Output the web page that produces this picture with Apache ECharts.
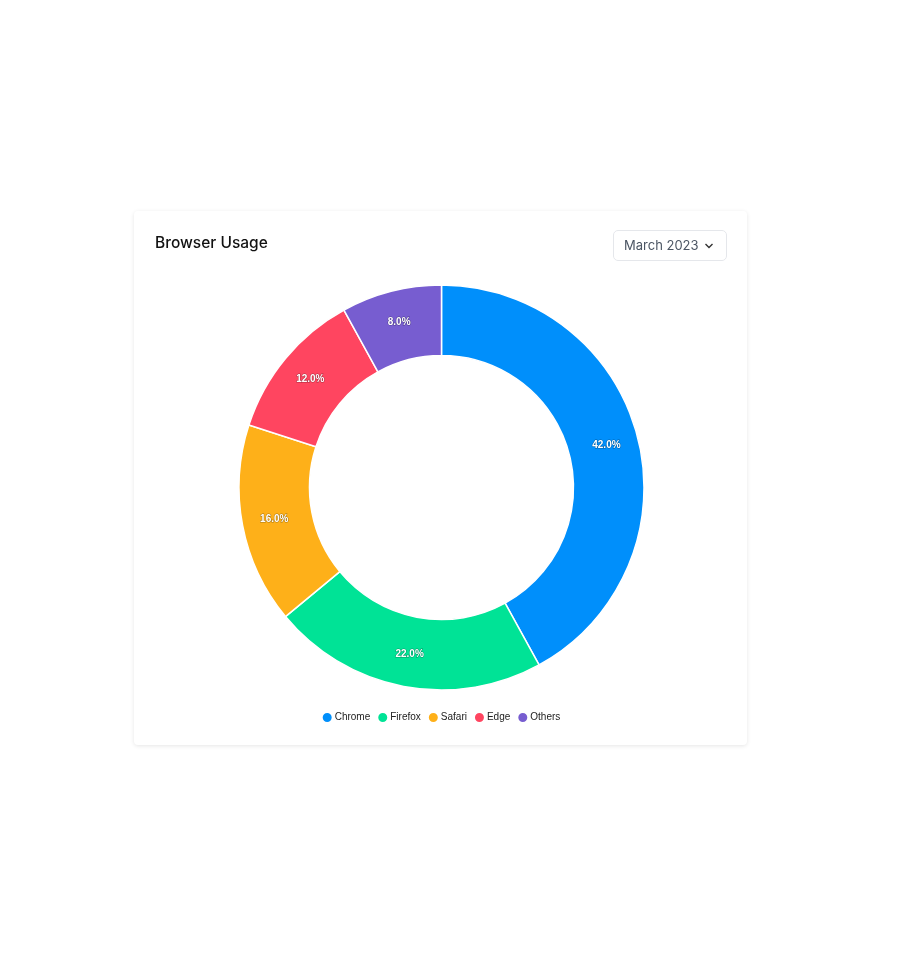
<!DOCTYPE html>
<html>
<head>
<meta charset="utf-8">
<script src="https://cdn.jsdelivr.net/npm/echarts@6/dist/echarts.min.js"></script>
<style>
  html, body { margin: 0; padding: 0; background: #fff; width: 900px; height: 960px; overflow: hidden; }
  #card { position: absolute; left: 134px; top: 211px; width: 613px; height: 534px; background: #fff;
          border-radius: 4px; box-shadow: 0 1px 4px rgba(0,0,0,0.10); }
  #title { position: absolute; left: 21px; top: 22px; font-family: Inter, "Noto Sans", sans-serif;
           font-size: 15.5px; font-weight: 500; color: #111; }
  #dd { position: absolute; left: 479px; top: 19px; width: 114px; height: 31px; box-sizing: border-box;
        border: 1px solid #e5e7eb; border-radius: 5px; font-family: Inter, "Noto Sans", sans-serif;
        font-size: 13px; color: #4b5563; line-height: 29px; padding-left: 10px; }
  #dd svg { position: absolute; right: 12px; top: 11px; }
  #chart { position: absolute; left: 0; top: 0; width: 613px; height: 534px; }
</style>
</head>
<body>
<div id="card">
  <div id="chart"></div>
  <div id="title">Browser Usage</div>
  <div id="dd">March 2023<svg width="10" height="8" viewBox="0 0 10 8"><path d="M1.5 2 L5 5.5 L8.5 2" fill="none" stroke="#333" stroke-width="1.4"/></svg></div>
</div>
<script>
const categories = ['Chrome', 'Firefox', 'Safari', 'Edge', 'Others'];
const values = [42, 22, 16, 12, 8];
const colors = ['#008FFB', '#00E396', '#FEB019', '#FF4560', '#775DD0'];

const chart = echarts.init(document.getElementById('chart'), null, { renderer: 'canvas' });
chart.setOption({
  animation: false,
  color: colors,
  legend: {
    top: 495,
    left: 'center',
    icon: 'circle',
    itemWidth: 11,
    itemHeight: 11,
    itemGap: 6,
    textStyle: { fontFamily: 'Liberation Sans, Arial, sans-serif', fontSize: 10, color: '#222',
                 padding: [0, 0, 0, -3] },
    data: categories
  },
  series: [{
    type: 'pie',
    center: [307.5, 276.5],
    radius: [132, 202.5],
    startAngle: 90,
    clockwise: true,
    itemStyle: { borderColor: '#fff', borderWidth: 1.5 },
    label: {
      show: true,
      position: 'inside',
      formatter: p => p.value.toFixed(1) + '%',
      color: '#fff',
      fontFamily: 'Liberation Sans, Arial, sans-serif',
      fontSize: 10,
      fontWeight: 'bold',
      textBorderColor: 'rgba(0,0,0,0.35)',
      textBorderWidth: 1
    },
    labelLine: { show: false },
    emphasis: { disabled: true },
    data: categories.map((c, i) => ({ name: c, value: values[i] }))
  }]
});
</script>
</body>
</html>
